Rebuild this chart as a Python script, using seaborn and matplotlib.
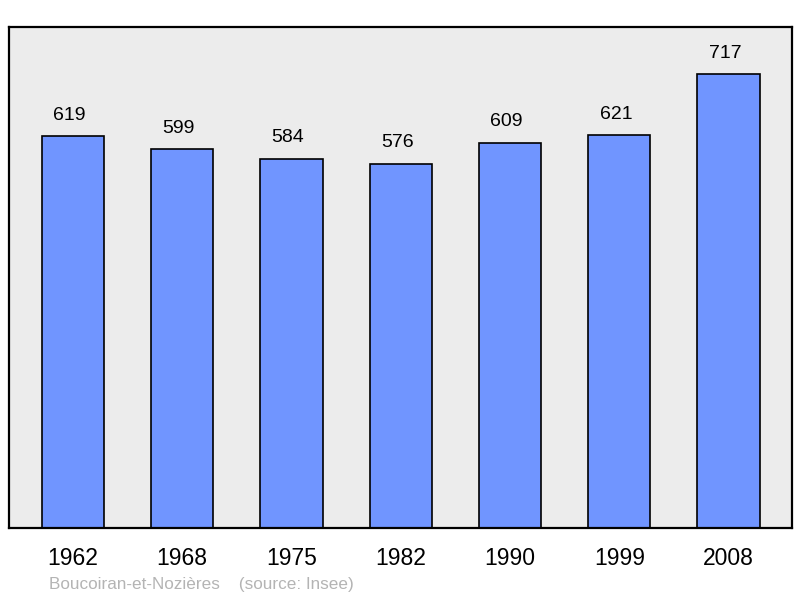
import matplotlib
matplotlib.use("Agg")
import matplotlib.pyplot as plt
import seaborn as sns
import pandas as pd

# données de population
years = ["1962", "1968", "1975", "1982", "1990", "1999", "2008"]
population = [619, 599, 584, 576, 609, 621, 717]
commune = "Boucoiran-et-Nozières"
source = "(source: Insee)"

sns.set_style("white")
plt.rcParams['font.family'] = ['Liberation Sans', 'DejaVu Sans']

df = pd.DataFrame({"year": years, "pop": population})

fig = plt.figure(figsize=(8, 5.98), dpi=100)
ax = fig.add_axes([9 / 800, 70 / 598, 783 / 800, 501 / 598])
ax.set_facecolor("#ececec")

sns.barplot(data=df, x="year", y="pop", color="#7095ff", saturation=1,
            edgecolor="black", linewidth=1.2, width=0.57, ax=ax)

ax.set_xlim(-0.585, 6.58)
ax.set_ylim(0, 792)

# étiquettes au-dessus des barres
for i, v in enumerate(population):
    ax.annotate(str(v), (i, v), xytext=(-2.5, 9), textcoords="offset points",
                ha="center", va="bottom", fontsize=14, color="black")

ax.set_yticks([])
ax.set_xlabel("")
ax.set_ylabel("")
ax.tick_params(axis="x", length=0, labelsize=16.5, pad=14, labelcolor="black")
for s in ax.spines.values():
    s.set_visible(True)
    s.set_linewidth(1.6)
    s.set_color("black")

fig.text(49 / 800, 1 - 584 / 598, commune + "    " + source,
         fontsize=12.3, color="#b4b4b4", ha="left", va="center")

fig.savefig("out.png", dpi=100)
